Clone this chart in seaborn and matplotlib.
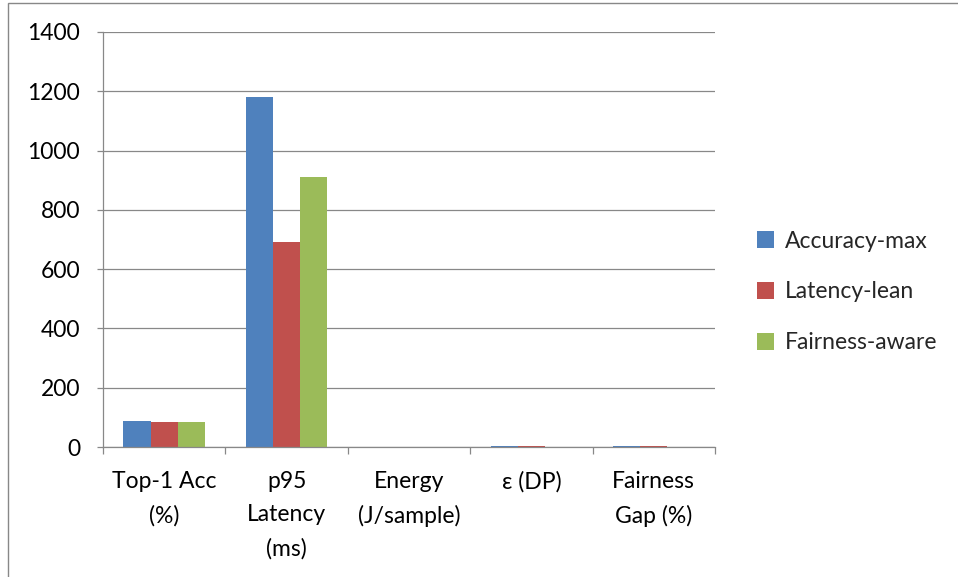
import matplotlib
matplotlib.use("Agg")
import matplotlib.pyplot as plt
from matplotlib.patches import Rectangle
import seaborn as sns
import pandas as pd
import numpy as np

# Metric categories (x axis) and the three configurations (hue)
categories = ["Top-1 Acc\n(%)", "p95\nLatency\n(ms)", "Energy\n(J/sample)", "ε (DP)", "Fairness\nGap (%)"]
series_names = ["Accuracy-max", "Latency-lean", "Fairness-aware"]
accuracy_max = [86.5, 1180, 0.9, 2.0, 2.2]
latency_lean = [85.8, 690, 0.6, 5.0, 3.0]
fairness_aware = [86.0, 910, 0.7, 1.5, 1.2]
y_ticks = [0, 200, 400, 600, 800, 1000, 1200, 1400]

colors = ["#4F81BD", "#C0504D", "#9BBB59"]
grid_gray = "#888888"

df = pd.DataFrame({
    "metric": categories * 3,
    "config": [s for s in series_names for _ in categories],
    "value": accuracy_max + latency_lean + fairness_aware,
})

sns.set_theme(style="white")
plt.rcParams["font.family"] = ["Lato", "DejaVu Sans"]

W, H = 958, 577
fig = plt.figure(figsize=(W / 100, H / 100), dpi=100)
ax = fig.add_axes([103 / W, 1 - 447 / H, (715 - 103) / W, (447 - 32) / H])

sns.barplot(data=df, x="metric", y="value", hue="config", order=categories,
            hue_order=series_names, palette=colors, width=0.667, gap=0,
            saturation=1, edgecolor="none", linewidth=0, ax=ax, legend=True)

ax.set_ylim(0, 1400)
ax.set_xlim(-0.5, len(categories) - 0.5)
ax.set_yticks(y_ticks)
ax.set_yticklabels([str(v) for v in y_ticks])
ax.set_xlabel("")
ax.set_ylabel("")

# horizontal gridlines
ax.set_axisbelow(True)
ax.yaxis.grid(True, color=grid_gray, linewidth=0.9)
ax.xaxis.grid(False)

for side in ["top", "right"]:
    ax.spines[side].set_visible(False)
for side in ["left", "bottom"]:
    ax.spines[side].set_color(grid_gray)
    ax.spines[side].set_linewidth(0.9)

# y ticks point outward; x ticks sit on category boundaries
ax.tick_params(axis="y", which="major", direction="out", length=4.5, width=0.9,
               color=grid_gray, left=True, pad=12, labelsize=16.5, labelcolor="black")
ax.tick_params(axis="x", which="major", length=0, pad=17, labelsize=16.5, labelcolor="black")
ax.set_xticks(np.arange(-0.5, len(categories), 1.0), minor=True)
ax.tick_params(axis="x", which="minor", direction="out", length=5, width=0.9,
               color=grid_gray, bottom=True)
for lbl in ax.get_xticklabels():
    lbl.set_linespacing(1.75)
    lbl.set_verticalalignment("top")

# legend on the right
handles, labels = ax.get_legend_handles_labels()
ax.legend(handles, labels, loc="center left", bbox_to_anchor=(748 / W, 1 - 292 / H),
          bbox_transform=fig.transFigure, frameon=False, fontsize=16.5,
          handlelength=0.75, handleheight=0.75, handletextpad=0.45,
          labelspacing=1.3, borderaxespad=0)

# outer chart border
fig.patches.append(Rectangle((8 / W, -0.05), 1.2, 1 - 3 / H + 0.05,
                             transform=fig.transFigure, fill=False,
                             edgecolor=grid_gray, linewidth=1.0))

fig.savefig("out.png", dpi=100)
